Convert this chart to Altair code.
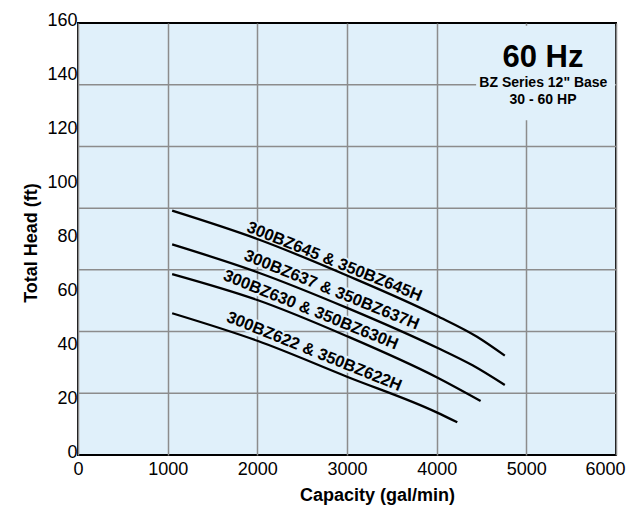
import altair as alt
import pandas as pd

# ---------------- data ----------------
x_ticks = [0, 1000, 2000, 3000, 4000, 5000, 6000]
y_ticks = [0, 20, 40, 60, 80, 100, 120, 140, 160]
# horizontal grid lines of the original (7 equal bands over 0-160)
h_grid = [22.86, 45.71, 68.57, 91.43, 114.29, 137.14]

models = ["300BZ645 & 350BZ645H", "300BZ637 & 350BZ637H",
          "300BZ630 & 350BZ630H", "300BZ622 & 350BZ622H"]
cap_645 = [1050, 2000, 3000, 4000, 4450, 4760]
head_645 = [90.5, 80.0, 66.5, 51.6, 43.8, 36.8]
cap_637 = [1050, 2000, 3000, 4000, 4400, 4760]
head_637 = [78.0, 67.7, 54.5, 39.8, 33.2, 25.9]
cap_630 = [1050, 2000, 3000, 4000, 4490]
head_630 = [67.0, 57.4, 44.0, 28.8, 20.0]
cap_622 = [1050, 2000, 3000, 4000, 4230]
head_622 = [52.5, 42.3, 29.0, 15.8, 12.1]

label_x = [2860, 2829, 2596, 2634]
label_y = [71.6, 61.1, 53.7, 38.3]

note_text = ["60 Hz", "BZ Series 12\" Base", "30 - 60 HP"]
note_x = [5186, 5190, 5186]
note_y = [147.0, 137.8, 131.3]
note_size = [31, 14, 14]

# area of the note box where the grid is hidden
mask_x, mask_x2, mask_y, mask_y2 = [4440], [5990], [124], [159]

# ---------------- tables ----------------
rows = []
for m, cs, hs in zip(models, [cap_645, cap_637, cap_630, cap_622],
                     [head_645, head_637, head_630, head_622]):
    for c, h in zip(cs, hs):
        rows.append({"model": m, "cap": c, "head": h})
curves = pd.DataFrame(rows)
labels = pd.DataFrame({"model": models, "x": label_x, "y": label_y})
notes = pd.DataFrame({"t": note_text, "x": note_x, "y": note_y, "fs": note_size})
grid_df = pd.DataFrame({"g": h_grid})
mask_df = pd.DataFrame({"x": mask_x, "x2": mask_x2, "y": mask_y, "y2": mask_y2})

BG = "#e0f0fa"
GRID = "#8c8c8c"
FONT = "Liberation Sans"
LABEL_SIZE = 16.5

xs = alt.Scale(domain=[0, 6000], nice=False, zero=False)
ys = alt.Scale(domain=[0, 160], nice=False, zero=False)

x_axis = alt.Axis(values=x_ticks, title="Capacity (gal/min)", grid=True,
                  gridColor=GRID, gridWidth=1.5, labelPadding=5,
                  labelOffset={"condition": {"test": "datum.value == 6000", "value": -11},
                               "value": 0},
                  titleX=299, titleY=40, titleBaseline="middle",
                  titleAlign="center", format="d")
y_axis = alt.Axis(values=y_ticks, title="Total Head (ft)", grid=False,
                  labelPadding=1, labelOffset=-3, titleX=-47, titleY=219.5,
                  titleBaseline="middle", titleAlign="center", format="d")

hgrid_layer = alt.Chart(grid_df).mark_rule(color=GRID, strokeWidth=1.5).encode(
    y=alt.Y("g:Q", scale=ys, axis=y_axis)
)

mask_layer = alt.Chart(mask_df).mark_rect(fill=BG).encode(
    x=alt.X("x:Q", scale=xs), x2="x2:Q",
    y=alt.Y("y:Q", scale=ys), y2="y2:Q",
)

halo_layer = alt.Chart(labels).mark_text(
    font=FONT, fontSize=LABEL_SIZE, fontWeight="bold", angle=22, align="center",
    baseline="middle", fill=BG, stroke=BG, strokeWidth=4
).encode(x=alt.X("x:Q", scale=xs), y=alt.Y("y:Q", scale=ys), text="model:N")

curve_layer = alt.Chart(curves).mark_line(
    color="black", strokeWidth=2.3, interpolate="monotone"
).encode(
    x=alt.X("cap:Q", scale=xs, axis=x_axis),
    y=alt.Y("head:Q", scale=ys),
    detail="model:N",
)

label_layer = alt.Chart(labels).mark_text(
    font=FONT, fontSize=LABEL_SIZE, fontWeight="bold", angle=22, align="center",
    baseline="middle", color="black"
).encode(x=alt.X("x:Q", scale=xs), y=alt.Y("y:Q", scale=ys), text="model:N")

note_layer = alt.Chart(notes).mark_text(
    font=FONT, fontWeight="bold", align="center", baseline="middle", color="black"
).encode(
    x=alt.X("x:Q", scale=xs), y=alt.Y("y:Q", scale=ys), text="t:N",
    size=alt.Size("fs:Q", scale=None, legend=None),
)

chart = alt.layer(
    hgrid_layer, mask_layer, halo_layer, curve_layer, label_layer, note_layer
).properties(
    width=538, height=432,
    autosize=alt.AutoSizeParams(type="none"),
    padding={"left": 70, "top": 15, "right": 10, "bottom": 51},
    background="white",
).configure_view(
    fill=BG, stroke="black", strokeWidth=2
).configure_axis(
    labelFont=FONT, titleFont=FONT, labelFontSize=18, titleFontSize=18,
    titleFontWeight="bold", labelColor="black", titleColor="black",
    domain=False, ticks=False, labelFlush=False, labelOverlap=False,
)

chart.save("out.html", embed_options={"renderer": "svg", "actions": False})
